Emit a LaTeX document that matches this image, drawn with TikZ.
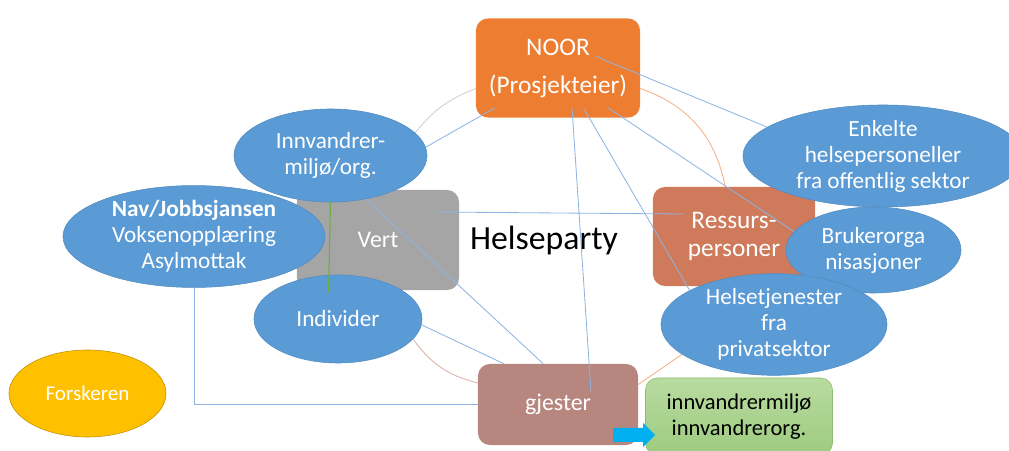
\documentclass[tikz,border=0pt]{standalone}
\usepackage{fontspec}
\setmainfont{Carlito}
\usetikzlibrary{calc,shapes.geometric}

\definecolor{noororange}{HTML}{ED7D31}
\definecolor{vertgray}{HTML}{A5A5A5}
\definecolor{ressursred}{HTML}{CF7A5A}
\definecolor{gjesterbrown}{HTML}{B6867F}
\definecolor{bubbleblue}{HTML}{5B9BD5}
\definecolor{forskergold}{HTML}{FFC000}
\definecolor{forskeredge}{HTML}{BF9000}
\definecolor{miljotop}{HTML}{B8DBA0}
\definecolor{miljobottom}{HTML}{9ECB80}
\definecolor{miljoedge}{HTML}{8DBE6E}
\definecolor{linkblue}{HTML}{8DB4E2}
\definecolor{arcgray}{HTML}{CFCFCF}
\definecolor{arcorange}{HTML}{F4B183}
\definecolor{arcpink}{HTML}{DDB0A8}
\definecolor{vertgreen}{HTML}{70AD47}
\definecolor{pushcyan}{HTML}{00B0F0}

\pgfdeclarelayer{boxes}
\pgfdeclarelayer{links}
\pgfsetlayers{boxes,links,main}

\tikzset{
  card/.style={rounded corners=0.3cm, inner sep=0pt, text=white, align=center,
    font=\fontsize{18}{20}\selectfont},
  bubble/.style={ellipse, fill=bubbleblue, draw=bubbleblue!90!black, line width=0.4pt,
    inner sep=0pt, text=white, align=center, font=\fontsize{16.5}{18.5}\selectfont},
  link/.style={draw=linkblue, line width=0.6pt},
  softarc/.style={line width=0.6pt},
}

\begin{document}
\begin{tikzpicture}[x=0.025cm, y=-0.025cm]
  %%%%% START %%%%%
  \useasboundingbox (0,0) rectangle (1009,451);

  % boxes
  \begin{pgfonlayer}{boxes}
    \node[card, fill=noororange, minimum width=4.1cm, minimum height=2.475cm,
      font=\fontsize{18}{27}\selectfont] (noor) at (558,68) {NOOR\\(Prosjekteier)};
    \node[card, fill=vertgray, minimum width=4.05cm, minimum height=2.5cm,
      font=\fontsize{17}{20}\selectfont] (vert) at (378,240) {Vert};
    \node[card, fill=ressursred, minimum width=4.05cm, minimum height=2.475cm] (ressurs) at (734,236.5) {Ressurs-\\personer};
    \node[card, fill=gjesterbrown, minimum width=4cm, minimum height=2.025cm,
      font=\fontsize{17}{20}\selectfont] (gjester) at (558,404.5) {gjester};
    \node[card, top color=miljotop, bottom color=miljobottom, draw=miljoedge, text=black,
      minimum width=4.675cm, minimum height=1.925cm,
      font=\fontsize{16}{18}\selectfont] (miljo) at (739,416.5) {innvandrermiljø\\innvandrerorg.};
  \end{pgfonlayer}

  % ellipses
  \node[bubble, minimum width=4.825cm, minimum height=2.325cm] (innv) at (330.5,155.5) {Innvandrer-\\miljø/org.};
  \node[bubble, minimum width=6.55cm, minimum height=2.425cm] (nav) at (194,236.5) {\textbf{Nav/Jobbsjansen}\\Voksenopplæring\\Asylmottak};
  \node[bubble, minimum width=4.2cm, minimum height=2.2cm] (individer) at (338,319) {Individer};
  \node[bubble, fill=forskergold, draw=forskeredge, minimum width=3.925cm, minimum height=2.175cm,
    font=\fontsize{15}{18}\selectfont] (forsker) at (87.5,393.5) {Forskeren};
  \node[bubble, minimum width=7cm, minimum height=2.475cm] (enkelte) at (883,156) {Enkelte\\helsepersoneller\\fra offentlig sektor};
  \node[bubble, minimum width=4.375cm, minimum height=2.15cm] (bruker) at (873.5,250) {Brukerorga\\nisasjoner};
  \node[bubble, minimum width=5.65cm, minimum height=2.425cm] (helse) at (774,324.5) {Helsetjenester\\fra\\privatsektor};

  \node[font=\fontsize{24}{28}\selectfont] (tittel) at (544,241) {Helseparty};

  % connectors
  \begin{pgfonlayer}{links}
    \draw[link] ($(noor.center)+(38,-11.5)$) -- (enkelte.166);
    \draw[link] ($(noor.south)+(-63,-10)$) -- (innv.5);
    \draw[link] ($(noor.south)+(14,-10)$) -- ($(gjester.north)+(33,28)$);
    \draw[link] ($(noor.south)+(26,-9)$) -- (helse.158);
    \draw[link] ($(noor.south)+(50,-10)$) -- (bruker.167);
    \draw[link] ($(vert.center)+(57,-28)$) -- ($(ressurs.center)+(-51,-22.5)$);
    \draw[link] (innv.309) -- (gjester.110);
    \draw[link] (individer.-4) -- (gjester.143);
    \draw[link] (nav.south) |- (gjester.west);
    \draw[softarc, arcgray] (innv.15) to[bend left=15] (noor.194);
    \draw[softarc, arcorange] (noor.-14) to[bend left=30] (ressurs.100);
    \draw[softarc, arcpink] (individer.-15) to[bend right=20] (gjester.165);
    \draw[softarc, arcorange] (gjester.14) -- (helse.198);
  \end{pgfonlayer}

  \draw[vertgreen, line width=0.8pt] (innv.south) -- ($(innv.south)+(-2,90)$);

  % block arrow into the green box
  \coordinate (push) at (613,435);
  \fill[pushcyan] (push) ++(0,-7) -- ++(30,0) -- ++(0,-5) -- ++(12,12)
    -- ++(-12,12) -- ++(0,-5) -- ++(-30,0) -- cycle;
  %%%%% END %%%%%
\end{tikzpicture}
\end{document}
